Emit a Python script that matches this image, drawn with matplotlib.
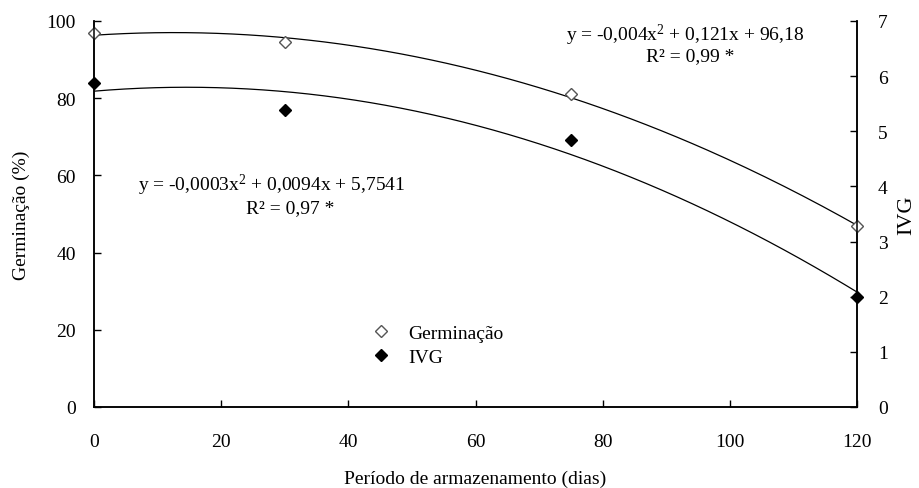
import numpy as np
import matplotlib.pyplot as plt
from matplotlib.lines import Line2D

plt.rcParams['font.family'] = ['Liberation Serif', 'DejaVu Serif']
plt.rcParams['mathtext.fontset'] = 'custom'
plt.rcParams['mathtext.rm'] = 'Liberation Serif'

# storage period (days)
dias = [0, 30, 75, 120]
germinacao = [96.8, 94.6, 81.0, 46.8]
ivg = [5.88, 5.38, 4.85, 2.0]

x_ticks = [0, 20, 40, 60, 80, 100, 120]
germ_ticks = [0, 20, 40, 60, 80, 100]
ivg_ticks = [0, 1, 2, 3, 4, 5, 6, 7]

eq_germ = ["y = -0,004x$\\mathrm{^2}$ + 0,121x + 96,18", "R² = 0,99 *"]
eq_ivg = ["y = -0,0003x$\\mathrm{^2}$ + 0,0094x + 5,7541", "R² = 0,97 *"]

fs = 14

# quadratic trend lines (like the spreadsheet trendline)
xs = np.linspace(0, 120, 200)
fit_germ = np.polyval(np.polyfit(dias, germinacao, 2), xs)
fit_ivg = np.polyval(np.polyfit(dias, ivg, 2), xs)

fig = plt.figure(figsize=(9.19, 4.89), dpi=100)
ax = fig.add_axes([94 / 919, 1 - 408 / 489, (857 - 94) / 919, (408 - 22) / 489])
ax2 = ax.twinx()

ax.plot(xs, fit_germ, color='black', lw=0.9)
ax2.plot(xs, fit_ivg, color='black', lw=0.9)
ax.plot(dias, germinacao, ls='none', marker='D', ms=6, mfc='white',
        mec='#555555', mew=1.0, clip_on=False, zorder=5)
ax2.plot(dias, ivg, ls='none', marker='D', ms=6, mfc='black',
         mec='black', clip_on=False, zorder=5)

ax.set_xlim(0, 120)
ax.set_ylim(0, 100)
ax2.set_ylim(0, 7)
ax.set_xticks(x_ticks)
ax.set_yticks(germ_ticks)
ax2.set_yticks(ivg_ticks)

for a in (ax, ax2):
    a.spines['top'].set_visible(False)
    a.tick_params(direction='in', length=5, width=1, labelsize=fs)
    for s in a.spines.values():
        s.set_linewidth(1.1)
ax.tick_params(axis='x', pad=19)
ax.tick_params(axis='y', pad=13)
ax2.tick_params(axis='y', pad=15)

ax.set_xlabel("Período de armazenamento (dias)", fontsize=fs, labelpad=14)
ax.set_ylabel("Germinação (%)", fontsize=fs, labelpad=12)
ax2.set_ylabel("IVG", fontsize=16, labelpad=7)

fig.text(685 / 919, 1 - 35 / 489, eq_germ[0], ha='center', va='center', fontsize=fs)
fig.text(690 / 919, 1 - 57 / 489, eq_germ[1], ha='center', va='center', fontsize=fs)
fig.text(272 / 919, 1 - 185 / 489, eq_ivg[0], ha='center', va='center', fontsize=fs)
fig.text(290 / 919, 1 - 209 / 489, eq_ivg[1], ha='center', va='center', fontsize=fs)

handles = [
    Line2D([], [], ls='none', marker='D', ms=6, mfc='white', mec='#555555'),
    Line2D([], [], ls='none', marker='D', ms=6, mfc='black', mec='black'),
]
fig.legend(handles, ["Germinação", "IVG"], loc='center left',
           bbox_to_anchor=(352 / 919, 1 - 346 / 489), frameon=False,
           fontsize=fs, handlelength=1.2, handletextpad=0.8, labelspacing=0.3)

fig.savefig("out.png", dpi=100)
